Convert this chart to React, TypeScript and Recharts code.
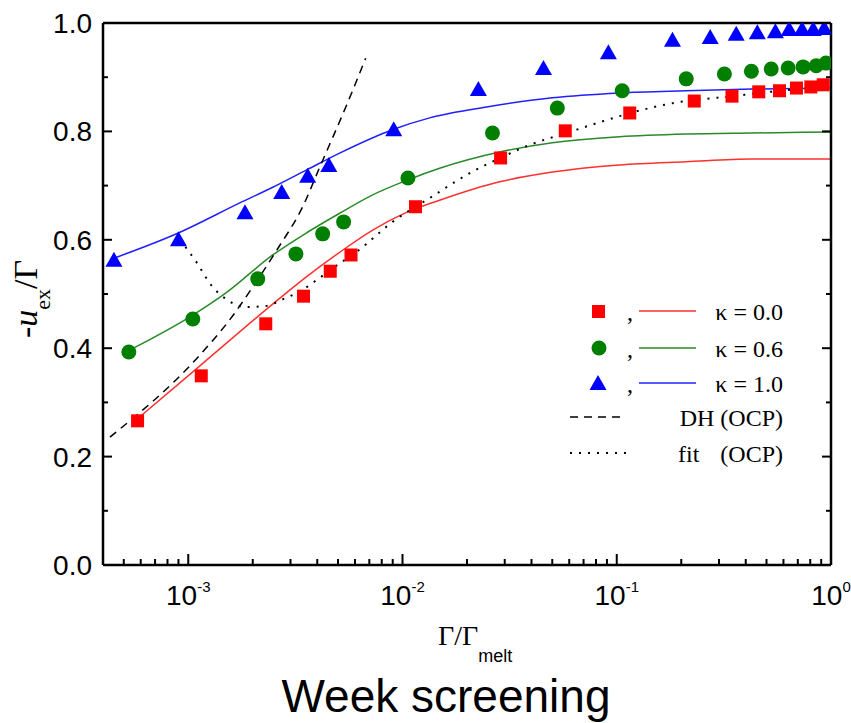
import React from 'react'
import {
  ComposedChart,
  Line,
  Scatter,
  XAxis,
  YAxis,
  Customized,
} from 'recharts'

// markers (Γ/Γmelt, -u_ex/Γ)
const SQ_X = [5.8e-4, 1.15e-3, 2.3e-3, 3.45e-3, 4.6e-3, 5.75e-3, 1.15e-2, 2.87e-2, 5.75e-2, 0.115, 0.23, 0.345, 0.46, 0.575, 0.69, 0.805, 0.92]
const SQ_Y = [0.266, 0.349, 0.445, 0.496, 0.542, 0.572, 0.661, 0.751, 0.801, 0.834, 0.856, 0.865, 0.873, 0.875, 0.88, 0.882, 0.886]

const CI_X = [5.28e-4, 1.05e-3, 2.11e-3, 3.18e-3, 4.24e-3, 5.31e-3, 1.06e-2, 2.63e-2, 5.28e-2, 0.106, 0.211, 0.318, 0.425, 0.526, 0.631, 0.741, 0.853, 0.948]
const CI_Y = [0.393, 0.454, 0.528, 0.574, 0.611, 0.633, 0.714, 0.797, 0.843, 0.875, 0.897, 0.906, 0.911, 0.915, 0.917, 0.919, 0.921, 0.926]

const TR_X = [4.5e-4, 9.0e-4, 1.84e-3, 2.73e-3, 3.61e-3, 4.53e-3, 9.1e-3, 2.26e-2, 4.55e-2, 9.14e-2, 0.182, 0.273, 0.361, 0.453, 0.55, 0.638, 0.733, 0.826, 0.929]
const TR_Y = [0.563, 0.601, 0.651, 0.688, 0.718, 0.738, 0.804, 0.878, 0.917, 0.946, 0.969, 0.974, 0.98, 0.983, 0.985, 0.989, 0.989, 0.989, 0.991]

// fitted curves
const RED_X = [5.76e-4, 1.13e-3, 2.67e-3, 3.57e-3, 5.09e-3, 7.26e-3, 1.05e-2, 1.49e-2, 2.84e-2, 5.01e-2, 0.103, 0.211, 0.428, 1.0]
const RED_Y = [0.269, 0.367, 0.492, 0.532, 0.577, 0.618, 0.651, 0.673, 0.707, 0.725, 0.738, 0.744, 0.749, 0.749]

const GREEN_X = [5.3e-4, 1.05e-3, 1.5e-3, 2.48e-3, 3.57e-3, 5.09e-3, 7.26e-3, 1.05e-2, 1.49e-2, 2.84e-2, 5.01e-2, 0.103, 0.211, 0.428, 1.0]
const GREEN_Y = [0.396, 0.461, 0.502, 0.572, 0.613, 0.649, 0.683, 0.71, 0.732, 0.762, 0.779, 0.79, 0.795, 0.797, 0.799]

const BLUE_X = [4.5e-4, 9.04e-4, 1.74e-3, 2.48e-3, 3.57e-3, 5.09e-3, 9.1e-3, 1.34e-2, 2.47e-2, 5.01e-2, 0.103, 0.211, 0.428, 1.0]
const BLUE_Y = [0.566, 0.613, 0.668, 0.697, 0.729, 0.76, 0.804, 0.825, 0.845, 0.862, 0.871, 0.875, 0.878, 0.88]

const DH_X = [4.31e-4, 1.13e-3, 1.6e-3, 2.0e-3, 2.59e-3, 3.42e-3, 4.11e-3, 5.68e-3, 6.73e-3]
const DH_Y = [0.236, 0.387, 0.458, 0.513, 0.581, 0.661, 0.734, 0.863, 0.935]

const FIT_X = [9.14e-4, 1.1e-3, 1.27e-3, 1.55e-3, 1.87e-3, 2.3e-3, 2.79e-3, 3.39e-3, 4.11e-3, 4.99e-3, 6.11e-3, 8.99e-3, 1.34e-2, 2.06e-2, 2.86e-2, 3.92e-2, 5.82e-2, 8.04e-2, 0.116, 0.182, 0.346, 0.618, 1.0]
const FIT_Y = [0.6, 0.557, 0.518, 0.487, 0.476, 0.478, 0.491, 0.507, 0.53, 0.554, 0.578, 0.633, 0.677, 0.723, 0.751, 0.775, 0.797, 0.815, 0.834, 0.852, 0.865, 0.876, 0.883]

// axes
const DECADES = [1e-3, 1e-2, 1e-1, 1]
const DECADE_LABELS = ['-3', '-2', '-1', '0']
const MINOR_STEPS = [2, 3, 4, 5, 6, 7, 8, 9]
const Y_TICKS = [0, 0.1, 0.2, 0.3, 0.4, 0.5, 0.6, 0.7, 0.8, 0.9, 1.0]
const Y_LABELS = ['0.0', '', '0.2', '', '0.4', '', '0.6', '', '0.8', '', '1.0']

const X_TICKS = [
  ...[5, 6, 7, 8, 9].map((m) => m * 1e-4),
  ...DECADES.flatMap((d, i) => (i < DECADES.length - 1 ? [d, ...MINOR_STEPS.map((m) => m * d)] : [d])),
]

const SANS = 'Liberation Sans, Arial, sans-serif'
const SERIF = 'Liberation Serif, Times New Roman, serif'

const toPts = (xs: number[], ys: number[]) => xs.map((x, i) => ({ x, y: ys[i] }))

const decadeIndex = (v: number) =>
  DECADES.findIndex((d) => Math.abs(Math.log10(v) - Math.log10(d)) < 1e-6)

const BottomTick = (props: any) => {
  const { x, y, payload } = props
  const di = decadeIndex(payload.value)
  const major = di >= 0
  return (
    <g>
      <line x1={x} x2={x} y1={y} y2={y - (major ? 11 : 6)} stroke="#000" strokeWidth={2} />
      {major && (
        <text x={x} y={y + 40} textAnchor="middle" fontFamily={SANS} fontSize={28} fill="#000">
          <tspan>10</tspan>
          <tspan dy={-13} fontSize={15}>{DECADE_LABELS[di]}</tspan>
        </text>
      )}
    </g>
  )
}

const TopTick = (props: any) => {
  const { x, y, payload } = props
  const major = decadeIndex(payload.value) >= 0
  return <line x1={x} x2={x} y1={y} y2={y + (major ? 11 : 6)} stroke="#000" strokeWidth={2} />
}

const LeftTick = (props: any) => {
  const { x, y, index } = props
  const label = Y_LABELS[index]
  return (
    <g>
      <line x1={x} x2={x + (label ? 9 : 5)} y1={y} y2={y} stroke="#000" strokeWidth={2} />
      {label && (
        <text x={x - 11} y={y} dy="0.36em" textAnchor="end" fontFamily={SANS} fontSize={28} fill="#000">
          {label}
        </text>
      )}
    </g>
  )
}

const RightTick = (props: any) => {
  const { x, y, index } = props
  const major = Y_LABELS[index] !== ''
  return <line x1={x} x2={x - (major ? 9 : 5)} y1={y} y2={y} stroke="#000" strokeWidth={2} />
}

const Square = (p: any) => <rect x={p.cx - 6.5} y={p.cy - 6.5} width={13} height={13} fill="#ff0000" />
const Dot = (p: any) => <circle cx={p.cx} cy={p.cy} r={7.5} fill="#007f00" />
const Tri = (p: any) => (
  <polygon
    points={`${p.cx},${p.cy - 8} ${p.cx - 8.5},${p.cy + 7} ${p.cx + 8.5},${p.cy + 7}`}
    fill="#0000ff"
  />
)

const LegendBox = () => {
  const rows = [
    { y: 311, color: '#ff3030', label: 'κ = 0.0', mark: <rect x={592} y={305} width={13} height={13} fill="#ff0000" /> },
    { y: 348, color: '#2a8a2a', label: 'κ = 0.6', mark: <circle cx={599} cy={348} r={7.5} fill="#007f00" /> },
    { y: 383, color: '#2020ff', label: 'κ = 1.0', mark: <polygon points="598,375 589.5,390 606.5,390" fill="#0000ff" /> },
  ]
  return (
    <g>
      {rows.map((r) => (
        <g key={r.label}>
          {r.mark}
          <text x={627} y={r.y + 9} fontFamily={SERIF} fontSize={24}>,</text>
          <line x1={639} x2={696} y1={r.y} y2={r.y} stroke={r.color} strokeWidth={1.5} />
          <text x={783} y={r.y + 9} textAnchor="end" fontFamily={SERIF} fontSize={24}>{r.label}</text>
        </g>
      ))}
      <line x1={570} x2={624} y1={417} y2={417} stroke="#000" strokeWidth={1.5} strokeDasharray="8 6" />
      <text x={783} y={426} textAnchor="end" fontFamily={SERIF} fontSize={24}>DH (OCP)</text>
      <line x1={570} x2={629} y1={453} y2={453} stroke="#000" strokeWidth={2} strokeDasharray="2 7" />
      <text x={678} y={462} fontFamily={SERIF} fontSize={24}>fit</text>
      <text x={783} y={462} textAnchor="end" fontFamily={SERIF} fontSize={24}>(OCP)</text>
    </g>
  )
}

const Labels = () => (
  <g fill="#000">
    <text x={438} y={645} fontFamily={SERIF} fontSize={28}>
      Γ/Γ
      <tspan dy={17} fontFamily={SANS} fontSize={18}>melt</tspan>
    </text>
    <text transform="translate(37,338) rotate(-90)" fontFamily={SERIF} fontSize={34}>
      <tspan>-</tspan>
      <tspan fontStyle="italic">u</tspan>
      <tspan dy={13} fontSize={22}>ex</tspan>
      <tspan dy={-13}>/Γ</tspan>
    </text>
    <text x={446} y={712} textAnchor="middle" fontFamily={SANS} fontSize={46}>Week screening</text>
  </g>
)

export default function App() {
  return (
    <div style={{ width: 851, height: 723 }}>
      <style>{'body{margin:0}'}</style>
      <ComposedChart width={851} height={723} margin={{ top: 0, right: 0, bottom: 0, left: 0 }}>
        <XAxis
          dataKey="x"
          type="number"
          scale="log"
          domain={[4e-4, 1]}
          allowDataOverflow
          ticks={X_TICKS}
          interval={0}
          height={158}
          tickSize={0}
          tickMargin={0}
          tickLine={false}
          axisLine={{ stroke: '#000', strokeWidth: 2.5 }}
          tick={<BottomTick />}
        />
        <XAxis
          xAxisId="top"
          orientation="top"
          type="number"
          scale="log"
          domain={[4e-4, 1]}
          allowDataOverflow
          ticks={X_TICKS}
          interval={0}
          height={23}
          tickSize={0}
          tickMargin={0}
          tickLine={false}
          axisLine={{ stroke: '#000', strokeWidth: 2.5 }}
          tick={<TopTick />}
        />
        <YAxis
          dataKey="y"
          type="number"
          domain={[0, 1]}
          allowDataOverflow
          ticks={Y_TICKS}
          interval={0}
          width={103}
          tickSize={0}
          tickMargin={0}
          tickLine={false}
          axisLine={{ stroke: '#000', strokeWidth: 2.5 }}
          tick={<LeftTick />}
        />
        <YAxis
          yAxisId="right"
          orientation="right"
          type="number"
          domain={[0, 1]}
          allowDataOverflow
          ticks={Y_TICKS}
          interval={0}
          width={20}
          tickSize={0}
          tickMargin={0}
          tickLine={false}
          axisLine={{ stroke: '#000', strokeWidth: 2.5 }}
          tick={<RightTick />}
        />

        <Line data={toPts(RED_X, RED_Y)} dataKey="y" type="monotone" stroke="#ff3030" strokeWidth={1.5} dot={false} isAnimationActive={false} />
        <Line data={toPts(GREEN_X, GREEN_Y)} dataKey="y" type="monotone" stroke="#2a8a2a" strokeWidth={1.5} dot={false} isAnimationActive={false} />
        <Line data={toPts(BLUE_X, BLUE_Y)} dataKey="y" type="monotone" stroke="#2020ff" strokeWidth={1.5} dot={false} isAnimationActive={false} />
        <Line data={toPts(DH_X, DH_Y)} dataKey="y" type="monotone" stroke="#000" strokeWidth={1.5} strokeDasharray="8 6" dot={false} isAnimationActive={false} />

        <Scatter data={toPts(SQ_X, SQ_Y)} dataKey="y" shape={Square} isAnimationActive={false} />
        <Scatter data={toPts(CI_X, CI_Y)} dataKey="y" shape={Dot} isAnimationActive={false} />
        <Scatter data={toPts(TR_X, TR_Y)} dataKey="y" shape={Tri} isAnimationActive={false} />

        <Line data={toPts(FIT_X, FIT_Y)} dataKey="y" type="monotone" stroke="#000" strokeWidth={2} strokeDasharray="2 7" dot={false} isAnimationActive={false} />

        <Customized component={LegendBox} />
        <Customized component={Labels} />
      </ComposedChart>
    </div>
  )
}
